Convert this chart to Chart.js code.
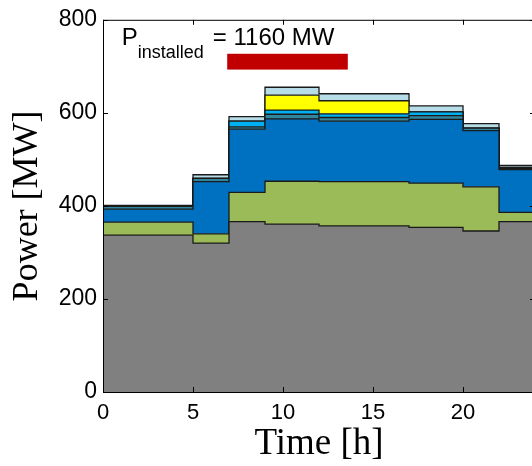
<!DOCTYPE html>
<html>
<head>
<meta charset="utf-8">
<script src="https://cdn.jsdelivr.net/npm/chart.js@4/dist/chart.umd.min.js"></script>
<style>
html,body{margin:0;padding:0;background:#fff;overflow:hidden;}
canvas{display:block;}
</style>
</head>
<body>
<canvas id="c" width="540" height="466"></canvas>
<script>
// step boundaries [h]
const hours = [0, 5, 7, 9, 12, 17, 20, 22, 24];
// MW per interval, bottom layer first
const grayMW   = [337, 320, 366, 361, 357, 354, 346, 366];
const greenMW  = [28, 20, 63, 92, 95, 95, 95, 20];
const blueMW   = [28, 112, 136, 134, 130, 137, 121, 92];
const tealMW   = [6, 7, 5, 10, 8, 8, 5, 2];
const cyanMW   = [0, 0, 12, 9, 8, 8, 0, 3];
const yellowMW = [0, 0, 0, 32, 28, 0, 0, 0];
const paleMW   = [2, 8, 10, 17, 15, 13, 10, 4];
const yTicks = [0, 200, 400, 600, 800];
const xTicks = [0, 5, 10, 15, 20];
// installed capacity marker
const installedLabel = '= 1160 MW';
const redBarHours = [6.9, 13.6];
const redBarMW = [693, 727];

const layers = [
  { data: grayMW,   color: '#808080' },
  { data: greenMW,  color: '#9BBB59' },
  { data: blueMW,   color: '#0070C0' },
  { data: tealMW,   color: '#31859C' },
  { data: cyanMW,   color: '#00B0F0' },
  { data: yellowMW, color: '#FFFF00' },
  { data: paleMW,   color: '#B7DEE8' }
];

function toPoints(vals){
  // last interval held until the end of the day
  const pts = vals.map((v,i)=>({ x: hours[i], y: v }));
  pts.push({ x: hours[hours.length-1], y: vals[vals.length-1] });
  return pts;
}

const datasets = layers.map((l,i)=>({
  data: toPoints(l.data),
  backgroundColor: l.color,
  borderColor: '#1a1a1a',
  borderWidth: 1.3,
  fill: i === 0 ? 'origin' : '-1',
  stepped: true,
  pointRadius: 0,
  tension: 0
}));

const frame = {
  id: 'frame',
  afterDraw(chart){
    const ctx = chart.ctx, a = chart.chartArea;
    const xs = chart.scales.x, ys = chart.scales.y;
    ctx.save();
    ctx.strokeStyle = '#000';
    ctx.lineWidth = 1;
    ctx.strokeRect(a.left+0.5, a.top+0.5, a.right-a.left, a.bottom-a.top);
    const tl = 5;
    ctx.beginPath();
    xTicks.forEach(t=>{
      const px = Math.round(xs.getPixelForValue(t))+0.5;
      ctx.moveTo(px, a.bottom); ctx.lineTo(px, a.bottom-tl);
      ctx.moveTo(px, a.top); ctx.lineTo(px, a.top+tl);
    });
    yTicks.forEach(t=>{
      const py = Math.round(ys.getPixelForValue(t))+0.5;
      ctx.moveTo(a.left, py); ctx.lineTo(a.left+tl, py);
      ctx.moveTo(a.right, py); ctx.lineTo(a.right-tl, py);
    });
    ctx.stroke();

    // red bar
    const x0 = xs.getPixelForValue(redBarHours[0]), x1 = xs.getPixelForValue(redBarHours[1]);
    const y0 = ys.getPixelForValue(redBarMW[1]), y1 = ys.getPixelForValue(redBarMW[0]);
    ctx.fillStyle = '#C00000';
    ctx.fillRect(x0, y0, x1-x0, y1-y0);

    // P_installed label
    ctx.fillStyle = '#000';
    ctx.textBaseline = 'alphabetic';
    ctx.font = '24px "Liberation Sans", Arial, sans-serif';
    ctx.fillText('P', xs.getPixelForValue(1.04), ys.getPixelForValue(745));
    ctx.fillText(installedLabel, xs.getPixelForValue(6.1), ys.getPixelForValue(745));
    ctx.font = '18px "Liberation Sans", Arial, sans-serif';
    ctx.fillText('installed', xs.getPixelForValue(1.93), ys.getPixelForValue(717));
    ctx.restore();
  }
};

new Chart(document.getElementById('c'), {
  type: 'line',
  data: { datasets },
  options: {
    responsive: false,
    animation: false,
    events: [],
    layout: { padding: { top: 19, right: 5, left: 0, bottom: 0 } },
    plugins: { legend: { display: false }, tooltip: { enabled: false } },
    scales: {
      x: {
        type: 'linear', min: 0, max: 24,
        grid: { display: false, drawTicks: false },
        border: { display: false },
        afterFit(s){ s.height = 74; },
        ticks: {
          stepSize: 5, includeBounds: false, padding: 8, color: '#000',
          font: { family: '"Liberation Sans", Arial, sans-serif', size: 22 }
        },
        title: {
          display: true, text: 'Time [h]', color: '#000',
          font: { family: '"Liberation Serif", "Times New Roman", serif', size: 37 },
          padding: { top: 0, bottom: 0 }
        }
      },
      y: {
        stacked: true, min: 0, max: 800,
        grid: { display: false, drawTicks: false },
        border: { display: false },
        afterFit(s){ s.width = 103; },
        ticks: {
          stepSize: 200, padding: 6, color: '#000',
          font: { family: '"Liberation Sans", Arial, sans-serif', size: 23 }
        },
        title: {
          display: true, text: 'Power [MW]', color: '#000',
          font: { family: '"Liberation Serif", "Times New Roman", serif', size: 36 },
          padding: { top: 6, bottom: 0 }
        }
      }
    }
  },
  plugins: [frame]
});
</script>
</body>
</html>
